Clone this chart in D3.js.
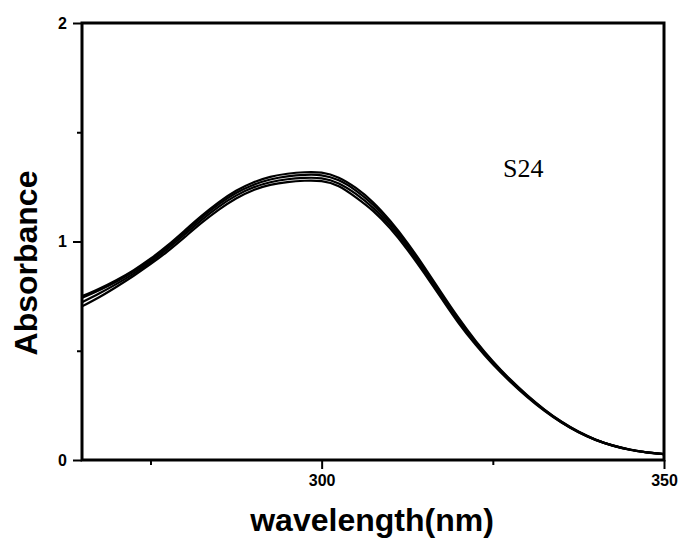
<!DOCTYPE html>
<html>
<head>
<meta charset="utf-8">
<script src="https://cdn.jsdelivr.net/npm/d3@7"></script>
<style>
  body { margin: 0; background: #fff; }
  svg { display: block; }
</style>
</head>
<body>
<script>
// wavelengths (nm) that the four scans were read at
var wavelengths = [265, 267.5, 270, 272.5, 275, 277.5, 280, 282.5, 285, 287.5,
  290, 292.5, 295, 297.5, 300, 302.5, 305, 307.5, 310, 312.5,
  315, 317.5, 320, 322.5, 325, 327.5, 330, 332.5, 335, 337.5,
  340, 342.5, 345, 347.5, 350];

var scanA = [0.750, 0.784, 0.823, 0.868, 0.921, 0.982, 1.050, 1.118, 1.180, 1.232,
  1.270, 1.296, 1.310, 1.317, 1.315, 1.292, 1.245, 1.180, 1.095, 0.995,
  0.883, 0.765, 0.650, 0.545, 0.452, 0.370, 0.297, 0.232, 0.176, 0.130,
  0.094, 0.067, 0.048, 0.035, 0.027];
var scanB = [0.742, 0.777, 0.816, 0.861, 0.914, 0.975, 1.042, 1.110, 1.171, 1.222,
  1.259, 1.284, 1.298, 1.305, 1.303, 1.280, 1.233, 1.168, 1.084, 0.985,
  0.874, 0.757, 0.643, 0.540, 0.448, 0.367, 0.295, 0.231, 0.175, 0.129,
  0.093, 0.067, 0.048, 0.035, 0.027];
var scanC = [0.722, 0.762, 0.805, 0.852, 0.905, 0.966, 1.032, 1.099, 1.160, 1.210,
  1.247, 1.271, 1.285, 1.291, 1.289, 1.266, 1.218, 1.154, 1.072, 0.975,
  0.864, 0.748, 0.635, 0.533, 0.443, 0.363, 0.292, 0.228, 0.173, 0.128,
  0.092, 0.066, 0.047, 0.035, 0.027];
var scanD = [0.703, 0.745, 0.792, 0.842, 0.896, 0.955, 1.020, 1.086, 1.146, 1.197,
  1.235, 1.259, 1.272, 1.278, 1.276, 1.253, 1.202, 1.140, 1.060, 0.963,
  0.854, 0.740, 0.627, 0.527, 0.438, 0.360, 0.289, 0.226, 0.172, 0.127,
  0.092, 0.066, 0.047, 0.035, 0.027];

var xMajor = [300, 350];
var xMinor = [275, 325];
var yMajor = [0, 1, 2];
var yMinor = [0.5, 1.5];

var width = 683;
var height = 544;
var margin = {left: 82, top: 23, right: 19, bottom: 84};
var w = width - margin.left - margin.right;
var h = height - margin.top - margin.bottom;

var svg = d3.select('body')
            .append('svg')
            .attr('width', width)
            .attr('height', height);

var g = svg.append('g')
           .attr('transform', 'translate(' + margin.left + ',' + margin.top + ')');

var x = d3.scaleLinear().domain([265, 350]).range([0, w]);
var y = d3.scaleLinear().domain([0, 2]).range([h, 0]);

// curves
var line = d3.line()
             .x(function(d) { return x(d[0]); })
             .y(function(d) { return y(d[1]); })
             .curve(d3.curveNatural);

[scanA, scanB, scanC, scanD].forEach(function(s) {
  g.append('path')
   .datum(wavelengths.map(function(wl, i) { return [wl, s[i]]; }))
   .attr('fill', 'none')
   .attr('stroke', '#000')
   .attr('stroke-width', 2.2)
   .attr('d', line);
});

// frame
g.append('rect')
 .attr('x', 0).attr('y', 0)
 .attr('width', w).attr('height', h)
 .attr('fill', 'none')
 .attr('stroke', '#000')
 .attr('stroke-width', 3);

// axes
var styleAxis = function(sel) {
  sel.select('.domain').remove();
  sel.selectAll('.tick line').attr('stroke', '#000').attr('stroke-width', 2);
  sel.selectAll('.tick text')
     .attr('fill', '#000')
     .style('font-family', 'Liberation Sans, Arial, sans-serif')
     .style('font-weight', 'bold')
     .style('font-size', '16px');
};

g.append('g')
 .attr('transform', 'translate(0,' + h + ')')
 .call(d3.axisBottom(x).tickValues(xMajor).tickSize(9).tickPadding(6).tickFormat(d3.format('d')))
 .call(styleAxis);

g.append('g')
 .attr('transform', 'translate(0,' + h + ')')
 .call(d3.axisBottom(x).tickValues(xMinor).tickSize(5).tickFormat(''))
 .call(styleAxis);

g.append('g')
 .call(d3.axisLeft(y).tickValues(yMajor).tickSize(9).tickPadding(6).tickFormat(d3.format('d')))
 .call(styleAxis);

g.append('g')
 .call(d3.axisLeft(y).tickValues(yMinor).tickSize(5).tickFormat(''))
 .call(styleAxis);

// titles
svg.append('text')
   .attr('transform', 'translate(37,263) rotate(-90)')
   .attr('text-anchor', 'middle')
   .style('font-family', 'Liberation Sans, Arial, sans-serif')
   .style('font-weight', 'bold')
   .style('font-size', '32px')
   .text('Absorbance');

svg.append('text')
   .attr('x', 372)
   .attr('y', 531)
   .attr('text-anchor', 'middle')
   .style('font-family', 'Liberation Sans, Arial, sans-serif')
   .style('font-weight', 'bold')
   .style('font-size', '32px')
   .text('wavelength(nm)');

svg.append('text')
   .attr('x', 503)
   .attr('y', 177)
   .style('font-family', 'Liberation Serif, Times New Roman, serif')
   .style('font-size', '26px')
   .text('S24');
</script>
</body>
</html>
